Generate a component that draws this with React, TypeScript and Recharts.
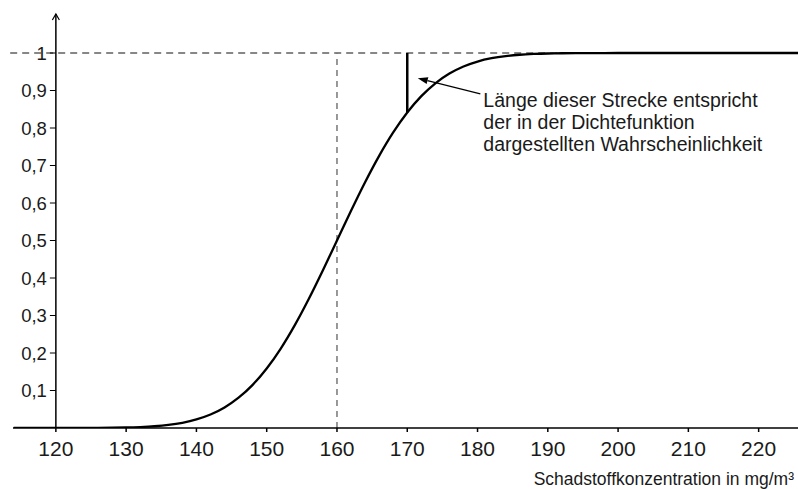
import React from "react";
import { LineChart, Line, XAxis, YAxis, ReferenceLine } from "recharts";

// Schadstoffkonzentration (mg/m³) und Verteilungsfunktion
const concentration = [
  114, 116, 118, 120, 122, 124, 126, 128, 130, 132, 134, 136, 138, 140, 142,
  144, 146, 148, 150, 152, 154, 156, 158, 160, 162, 164, 166, 168, 170, 172,
  174, 176, 178, 180, 182, 184, 186, 188, 190, 192, 194, 196, 198, 200, 202,
  204, 206, 208, 210, 212, 214, 216, 218, 220, 222, 224, 226,
];
const probability = [
  0.0, 0.0, 0.0, 0.0, 0.0001, 0.0002, 0.0003, 0.0007, 0.0013, 0.0026, 0.0047,
  0.0082, 0.0139, 0.0228, 0.0359, 0.0548, 0.0808, 0.1151, 0.1587, 0.2119,
  0.2743, 0.3446, 0.4207, 0.5, 0.5793, 0.6554, 0.7257, 0.7881, 0.8413, 0.8849,
  0.9192, 0.9452, 0.9641, 0.9772, 0.9861, 0.9918, 0.9953, 0.9974, 0.9987,
  0.9993, 0.9997, 0.9998, 0.9999, 1.0, 1.0, 1.0, 1.0, 1.0, 1.0, 1.0, 1.0, 1.0,
  1.0, 1.0, 1.0, 1.0, 1.0,
];

const xTicks = [120, 130, 140, 150, 160, 170, 180, 190, 200, 210, 220];
const yTicks = [0.1, 0.2, 0.3, 0.4, 0.5, 0.6, 0.7, 0.8, 0.9, 1];
const yTickLabels = ["0,1", "0,2", "0,3", "0,4", "0,5", "0,6", "0,7", "0,8", "0,9", "1"];

const mean = 160;
const markX = 170;
const markY = 0.8413;

const annotation = [
  "Länge dieser Strecke entspricht",
  "der in der Dichtefunktion",
  "dargestellten Wahrscheinlichkeit",
];

const FONT = '"Liberation Sans", Arial, Helvetica, sans-serif';
const INK = "#1a1a1a";

const data = concentration.map((x, i) => ({ x, p: probability[i] }));

function YAxisArrow(props: any) {
  const { x1, y1, y2 } = props;
  const top = Math.min(y1, y2);
  const bottom = Math.max(y1, y2);
  return (
    <g>
      <line x1={x1} y1={bottom} x2={x1} y2={top} stroke="#000" strokeWidth={1.5} />
      <polyline
        points={`${x1 - 3.5},${top + 6} ${x1},${top} ${x1 + 3.5},${top + 6}`}
        fill="none"
        stroke="#000"
        strokeWidth={1.2}
      />
    </g>
  );
}

function AnnotationArrow(props: any) {
  const { x1, y1, x2, y2 } = props;
  // x1,y1 = Pfeilspitze (links oben), x2,y2 = Ende beim Text
  const ang = Math.atan2(y1 - y2, x1 - x2);
  const len = 10;
  const w = 3.5;
  const bx = x1 - len * Math.cos(ang);
  const by = y1 - len * Math.sin(ang);
  const px = -Math.sin(ang) * w;
  const py = Math.cos(ang) * w;
  return (
    <g>
      <line x1={x2} y1={y2} x2={bx} y2={by} stroke="#000" strokeWidth={1.2} />
      <polygon
        points={`${x1},${y1} ${bx + px},${by + py} ${bx - px},${by - py}`}
        fill="#000"
      />
      <text x={x2 + 3} y={y2 + 13} fontFamily={FONT} fontSize={19.5} fill={INK}>
        {annotation.map((line, i) => (
          <tspan key={i} x={x2 + 3} dy={i === 0 ? 0 : 22}>
            {line}
          </tspan>
        ))}
      </text>
    </g>
  );
}

export default function App() {
  return (
    <div style={{ position: "absolute", left: 0, top: 0, background: "#fff" }}>
      <LineChart
        width={798}
        height={489}
        data={data}
        margin={{ top: 14, right: 0, bottom: 0, left: 13 }}
      >
        <XAxis
          dataKey="x"
          type="number"
          domain={[113.9, 225.6]}
          allowDataOverflow
          ticks={xTicks}
          interval={0}
          height={61}
          tickSize={4}
          tickMargin={9}
          stroke="#000"
          strokeWidth={1.5}
          tick={{ fontFamily: FONT, fontSize: 21, fill: INK }}
          label={{
            value: "Schadstoffkonzentration in mg/m³",
            position: "insideBottomRight",
            offset: 4,
            fontFamily: FONT,
            fontSize: 17.5,
            fill: INK,
          }}
        />
        <YAxis hide type="number" domain={[0, 1.104]} allowDataOverflow />

        {/* y-Achse mit Pfeil */}
        <ReferenceLine
          segment={[
            { x: 120, y: 0 },
            { x: 120, y: 1.104 },
          ]}
          ifOverflow="visible"
          shape={YAxisArrow}
        />
        {yTicks.map((v, i) => (
          <ReferenceLine
            key={v}
            segment={[
              { x: 119.15, y: v },
              { x: 120, y: v },
            ]}
            ifOverflow="visible"
            stroke="#000"
            strokeWidth={1}
            label={{
              value: yTickLabels[i],
              position: "left",
              offset: 3,
              fontFamily: FONT,
              fontSize: 18.5,
              fill: INK,
            }}
          />
        ))}

        {/* gestrichelte Hilfslinien */}
        <ReferenceLine
          segment={[
            { x: 113.5, y: 1 },
            { x: 225.6, y: 1 },
          ]}
          ifOverflow="visible"
          stroke="#111"
          strokeWidth={1.1}
          strokeDasharray="7 5"
        />
        <ReferenceLine
          segment={[
            { x: mean, y: 0 },
            { x: mean, y: 1 },
          ]}
          stroke="#777"
          strokeWidth={1.5}
          strokeDasharray="6 5"
        />

        {/* Strecke bei 170 */}
        <ReferenceLine
          segment={[
            { x: markX, y: markY },
            { x: markX, y: 1 },
          ]}
          stroke="#000"
          strokeWidth={2.5}
        />

        <Line
          type="monotone"
          dataKey="p"
          dot={false}
          stroke="#000"
          strokeWidth={2.3}
          isAnimationActive={false}
        />

        <ReferenceLine
          segment={[
            { x: 171.5, y: 0.933 },
            { x: 180.4, y: 0.891 },
          ]}
          ifOverflow="visible"
          shape={AnnotationArrow}
        />
      </LineChart>
    </div>
  );
}
